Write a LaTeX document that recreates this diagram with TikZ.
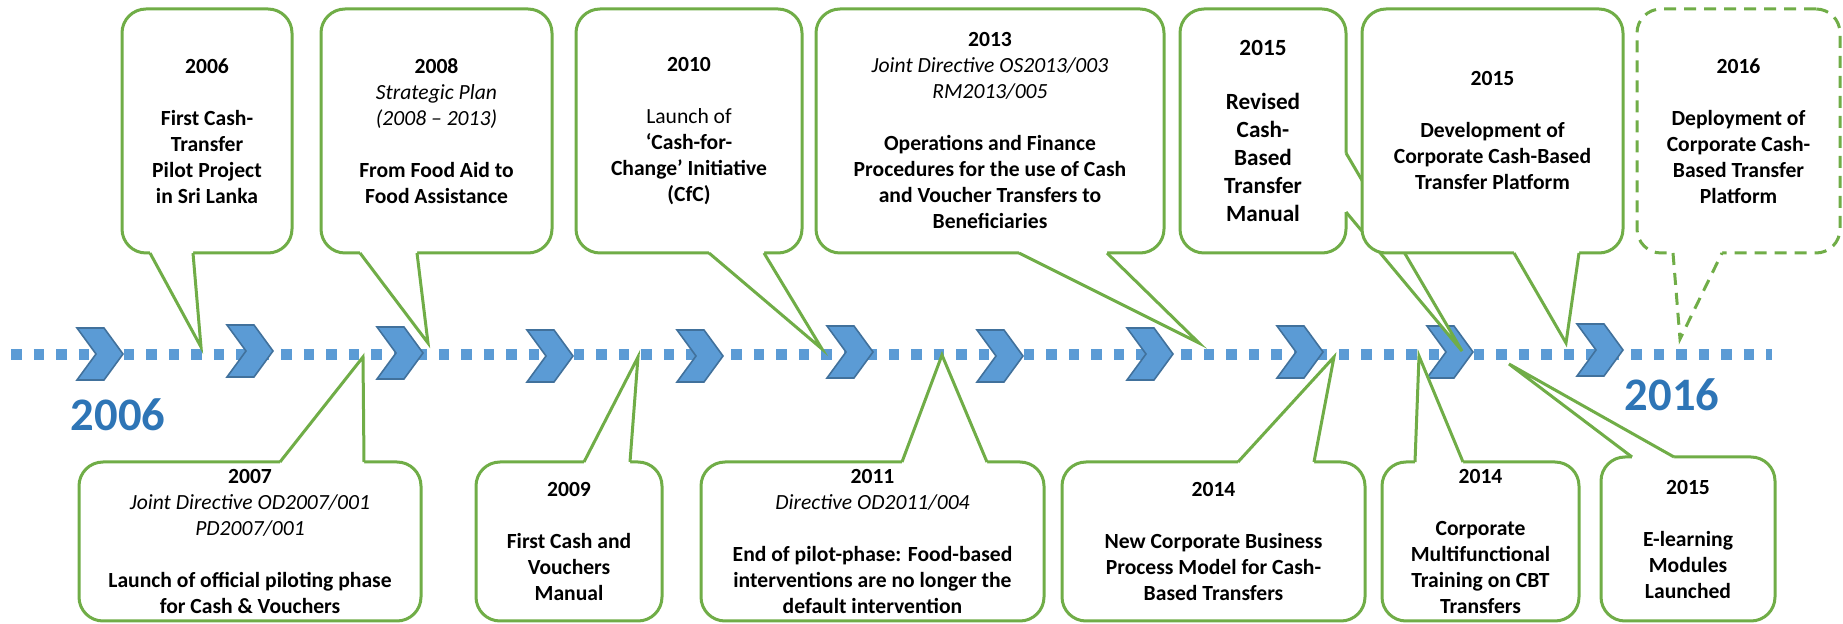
\documentclass[tikz,border=0pt]{standalone}
\usepackage{fontspec}
\setmainfont{Carlito}

\definecolor{cbgreen}{RGB}{112,173,71}
\definecolor{cbblue}{RGB}{91,155,213}
\definecolor{cbdark}{RGB}{65,113,156}
\definecolor{cbyear}{RGB}{46,117,182}

% tail of a callout: [style]{anchor}{offset 1}{offset 2}{tip}{cover shift}
\newcommand{\calltail}[6][]{%
  \fill[white] ([shift={(#3)},shift={(#6)}]#2) -- ([shift={(#3)}]#2) -- (#5) -- ([shift={(#4)}]#2) -- ([shift={(#4)},shift={(#6)}]#2) -- cycle;
  \draw[tailline,#1] ([shift={(#3)}]#2) -- (#5) -- ([shift={(#4)}]#2);
}

\begin{document}
\begin{tikzpicture}[x=0.5pt,y=-0.5pt]
    \tikzstyle{callout}=[draw=cbgreen,fill=white,line width=1.5pt,rounded corners=12pt,align=center,inner sep=0pt,outer sep=0pt,font=\fontsize{10.8}{13}\selectfont\bfseries]
    \tikzstyle{tailline}=[draw=cbgreen,line width=1.5pt]
    \tikzstyle{dashline}=[dash pattern=on 6pt off 4pt]
    \tikzstyle{dots}=[draw=cbblue,line width=5.5pt,dash pattern=on 5.4pt off 5.85pt]
    \tikzstyle{chev}=[fill=cbblue,draw=cbdark,line width=0.8pt]
    \tikzstyle{bigyear}=[text=cbyear,inner sep=0pt,font=\fontsize{23.3}{28}\selectfont\bfseries]
    \def\u{0.5pt}

    \useasboundingbox (0,0) rectangle (1843,624);

    % time line
    \draw[dots] (11,355) -- (1772,355);
    \foreach \cx/\cy in {100/354,250/351,400/353,550/356,700/356,850/352,1000/356,1150/354,1300/352,1450/352,1600/350}
        \draw[chev] (\cx-23,\cy-26) -- ++(27,0) -- ++(19,26) -- ++(-19,26) -- ++(-27,0) -- ++(19,-26) -- cycle;

    \node[bigyear] (y06) at (118,415) {2006};
    \node[bigyear] (y16) at (1672,395) {2016};

    % tips
    \coordinate (p06) at (201,347);
    \coordinate (p08) at (428,343);
    \coordinate (p10) at (822,349);
    \coordinate (p13) at (1199,343);
    \coordinate (p15a) at (1462,351);
    \coordinate (p15b) at (1566,343);
    \coordinate (p16) at (1680,339);
    \coordinate (p07) at (363,357);
    \coordinate (p09) at (638,357);
    \coordinate (p11) at (942,355);
    \coordinate (p14a) at (1334,357);
    \coordinate (p14b) at (1419,356);
    \coordinate (p15c) at (1509,364);

    % upper row
    \node[callout, minimum width=170*\u, minimum height=244*\u] (c06) at (207,131)
        {2006\\[13pt]First Cash-\\Transfer\\Pilot Project\\in Sri Lanka};
    \calltail{c06.south west}{28,0}{71,0}{p06}{0,-4}

    \node[callout, minimum width=231*\u, minimum height=244*\u] (c08) at (436.5,131)
        {2008\\{\mdseries\itshape Strategic Plan}\\{\mdseries\itshape (2008 – 2013)}\\[13pt]From Food Aid to\\Food Assistance};
    \calltail{c08.south west}{39,0}{96,0}{p08}{0,-4}

    \node[callout, minimum width=226*\u, minimum height=244*\u] (c10) at (689,131)
        {2010\\[13pt]{\mdseries Launch of}\\‘Cash-for-\\Change’ Initiative\\(CfC)};
    \calltail{c10.south west}{133,0}{188,0}{p10}{0,-4}

    \node[callout, minimum width=348*\u, minimum height=244*\u] (c13) at (990,131)
        {2013\\{\mdseries\itshape Joint Directive OS2013/003}\\{\mdseries\itshape RM2013/005}\\[13pt]Operations and Finance\\Procedures for the use of Cash\\and Voucher Transfers to\\Beneficiaries};
    \calltail{c13.south west}{203,0}{291,0}{p13}{0,-4}

    \node[callout, minimum width=166*\u, minimum height=244*\u, font=\fontsize{11.6}{14}\selectfont\bfseries] (c15a) at (1263,131)
        {2015\\[13pt]Revised\\Cash-\\Based\\Transfer\\Manual};
    \calltail{c15a.north east}{0,144}{0,203}{p15a}{-4,0}

    \node[callout, minimum width=261*\u, minimum height=244*\u] (c15b) at (1492.5,131)
        {2015\\[13pt]Development of\\Corporate Cash-Based\\Transfer Platform};
    \calltail{c15b.south west}{152,0}{217,0}{p15b}{0,-4}

    \node[callout, dashline, minimum width=203*\u, minimum height=244*\u] (c16) at (1738.5,131)
        {2016\\[13pt]Deployment of\\Corporate Cash-\\Based Transfer\\Platform};
    \calltail[dashline]{c16.south west}{36,0}{85,0}{p16}{0,-4}

    % lower row
    \node[callout, minimum width=342*\u, minimum height=159*\u] (c07) at (250,541.5)
        {2007\\{\mdseries\itshape Joint Directive OD2007/001}\\{\mdseries\itshape PD2007/001}\\[13pt]Launch of official piloting phase\\for Cash \& Vouchers};
    \calltail{c07.north west}{201,0}{285,0}{p07}{0,4}

    \node[callout, minimum width=186*\u, minimum height=159*\u] (c09) at (569,541.5)
        {2009\\[13pt]First Cash and\\Vouchers\\Manual};
    \calltail{c09.north west}{108,0}{154,0}{p09}{0,4}

    \node[callout, minimum width=343*\u, minimum height=159*\u] (c11) at (872.5,541.5)
        {2011\\{\mdseries\itshape Directive OD2011/004}\\[13pt]End of pilot-phase: Food-based\\interventions are no longer the\\default intervention};
    \calltail{c11.north west}{201,0}{286,0}{p11}{0,4}

    \node[callout, minimum width=303*\u, minimum height=159*\u] (c14a) at (1213.5,541.5)
        {2014\\[13pt]New Corporate Business\\Process Model for Cash-\\Based Transfers};
    \calltail{c14a.north west}{176,0}{252,0}{p14a}{0,4}

    \node[callout, minimum width=197*\u, minimum height=159*\u] (c14b) at (1480.5,541.5)
        {2014\\[13pt]Corporate\\Multifunctional\\Training on CBT\\Transfers};
    \calltail{c14b.north west}{33,0}{81,0}{p14b}{0,4}

    \node[callout, minimum width=174*\u, minimum height=164*\u] (c15c) at (1688,539)
        {2015\\[13pt]E-learning\\Modules\\Launched};
    \calltail{c15c.north west}{31,0}{73,0}{p15c}{0,4}

\end{tikzpicture}
\end{document}
